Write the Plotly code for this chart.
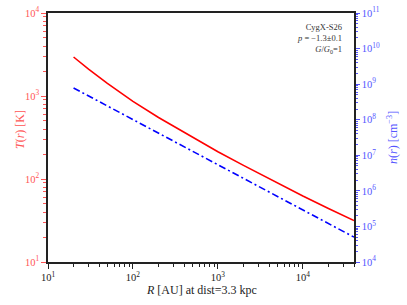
import plotly.graph_objects as go

# Data
R_T = [20, 30, 50, 100, 200, 500, 1000, 2000, 5000, 10000, 20000, 40000]
T_vals = [2950, 2110, 1422, 863, 550, 317, 213, 146, 89, 62.4, 44.2, 31.6]
R_n = [20, 100, 1000, 10000, 40000]
n_vals = [7.8e8, 1.0e8, 5.4e6, 2.9e5, 5.0e4]

x_ticks = [10, 100, 1000, 10000]
x_labels = ["10<sup>1</sup>", "10<sup>2</sup>", "10<sup>3</sup>", "10<sup>4</sup>"]
yl_ticks = [10, 100, 1000, 10000]
yl_labels = ["10<sup>1</sup>", "10<sup>2</sup>", "10<sup>3</sup>", "10<sup>4</sup>"]
yr_ticks = [1e4, 1e5, 1e6, 1e7, 1e8, 1e9, 1e10, 1e11]
yr_labels = ["10<sup>%d</sup>" % k for k in range(4, 12)]

FONT = "Liberation Serif"
RED_T = "#ff5555"
BLUE_T = "#5555ff"
W, H = 407, 305
L, Rm, T, B = 48, 53, 13, 43
PW, PH = W - L - Rm, H - T - B

fig = go.Figure()
fig.add_trace(go.Scatter(x=R_T, y=T_vals, mode="lines", line=dict(color="#ff0000", width=1.6),
                         showlegend=False, yaxis="y"))
fig.add_trace(go.Scatter(x=R_n, y=n_vals, mode="lines",
                         line=dict(color="#0000ff", width=1.6, dash="7px,3px,2px,3px"),
                         showlegend=False, yaxis="y2"))

fig.update_layout(
    width=W, height=H,
    margin=dict(l=L, r=Rm, t=T, b=B, autoexpand=False),
    paper_bgcolor="white", plot_bgcolor="white",
    font=dict(family=FONT, size=11, color="black"),
    xaxis=dict(type="log", range=[1, 4.602], tickvals=x_ticks, ticktext=x_labels,
               automargin=False,
               showgrid=False, zeroline=False, showline=True, linecolor="#222", linewidth=1.5,
               mirror=True, ticks="outside", ticklen=5, tickcolor="#222",
               minor=dict(ticks="outside", ticklen=3, tickcolor="#222", dtick="D1", showgrid=False),
               tickfont=dict(family=FONT, size=10.5, color="#222")),
    yaxis=dict(type="log", range=[1, 4], tickvals=yl_ticks, ticktext=yl_labels,
               automargin=False,
               showgrid=False, zeroline=False, showline=True, linecolor="#222", linewidth=1.5,
               ticks="outside", ticklen=5, tickcolor=RED_T,
               minor=dict(ticks="outside", ticklen=3, tickcolor=RED_T, dtick="D1", showgrid=False),
               tickfont=dict(family=FONT, size=10.5, color=RED_T)),
    yaxis2=dict(type="log", range=[4, 11], overlaying="y", side="right",
                tickvals=yr_ticks, ticktext=yr_labels, automargin=False,
                showgrid=False, zeroline=False, showline=True, linecolor="#222", linewidth=1.5,
                ticks="outside", ticklen=4, tickcolor=BLUE_T,
                minor=dict(ticks="outside", ticklen=2, tickcolor=BLUE_T, dtick="D1", showgrid=False),
                tickfont=dict(family=FONT, size=10.5, color=BLUE_T)),
)

def ax(xp):
    return (xp - L) / PW

def ay(yp):
    return (H - B - yp) / PH

fig.add_annotation(xref="paper", yref="paper", x=ax(201), y=ay(290),
                   text="<i>R</i> [AU] at dist=3.3 kpc", showarrow=False,
                   xanchor="center", yanchor="middle",
                   font=dict(family=FONT, size=12, color="#222"))
fig.add_annotation(xref="paper", yref="paper", x=ax(20), y=ay(130),
                   text="<i>T</i>(<i>r</i>) [K]", showarrow=False, textangle=-90,
                   xanchor="center", yanchor="middle",
                   font=dict(family=FONT, size=12, color=RED_T))
fig.add_annotation(xref="paper", yref="paper", x=ax(392), y=ay(138),
                   text="<i>n</i>(<i>r</i>) [cm<sup>−3</sup>]", showarrow=False, textangle=-90,
                   xanchor="center", yanchor="middle",
                   font=dict(family=FONT, size=12, color=BLUE_T))

ann_lines = ["CygX-S26", "<i>p</i> = −1.3±0.1", "<i>G</i>/<i>G</i><sub>0</sub>=1"]
fig.add_annotation(xref="paper", yref="paper", x=ax(344), y=ay(38.5),
                   text="<br>".join(ann_lines), align="right",
                   showarrow=False, xanchor="right", yanchor="middle",
                   font=dict(family=FONT, size=8.5, color="#333"))

fig.write_html("out.html", config={"displayModeBar": False},
               post_script="document.body.style.margin='0';document.body.style.padding='0';")
